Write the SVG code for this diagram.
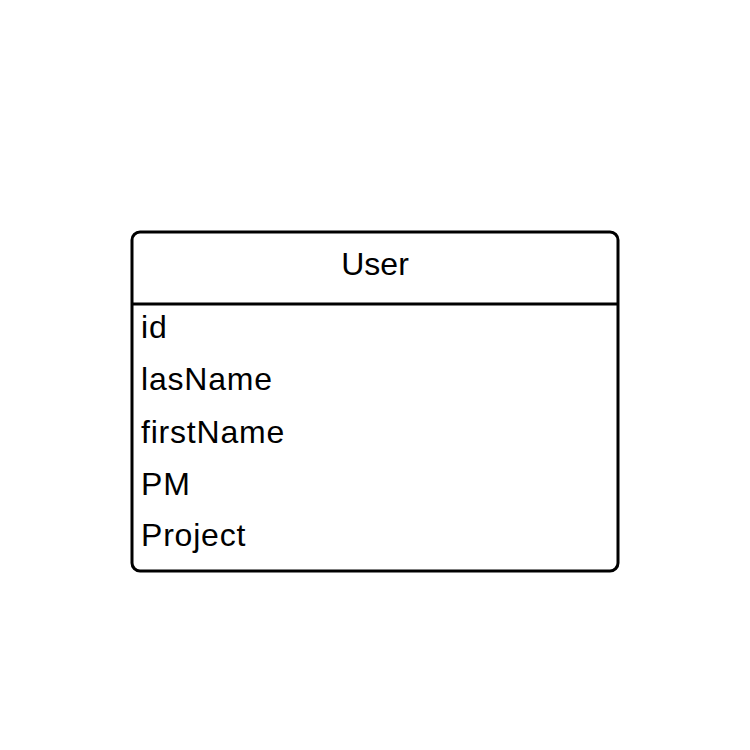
<svg xmlns="http://www.w3.org/2000/svg" width="750" height="750" viewBox="0 0 750 750">
<style>
.box{fill:#fff;stroke:#000;stroke-width:3}
.t{font-family:"Liberation Sans",Arial,sans-serif;fill:#000}
.title{font-size:32px;text-anchor:middle}
.item{font-size:32px;letter-spacing:0.8px}
</style>
<rect width="750" height="750" fill="#fff"/>
<g id="user">
<rect class="box" x="132" y="232" width="486" height="339" rx="8" ry="8"/>
<line x1="132" y1="304" x2="618" y2="304" stroke="#000" stroke-width="3"/>
<text class="t title" x="375" y="275">User</text>
<text class="t item" x="141" y="337.5">id</text>
<text class="t item" x="141" y="390">lasName</text>
<text class="t item" x="141" y="442.5">firstName</text>
<text class="t item" x="141" y="495">PM</text>
<text class="t item" x="141" y="546">Project</text>
</g>
<g id="connectors"/>
</svg>
